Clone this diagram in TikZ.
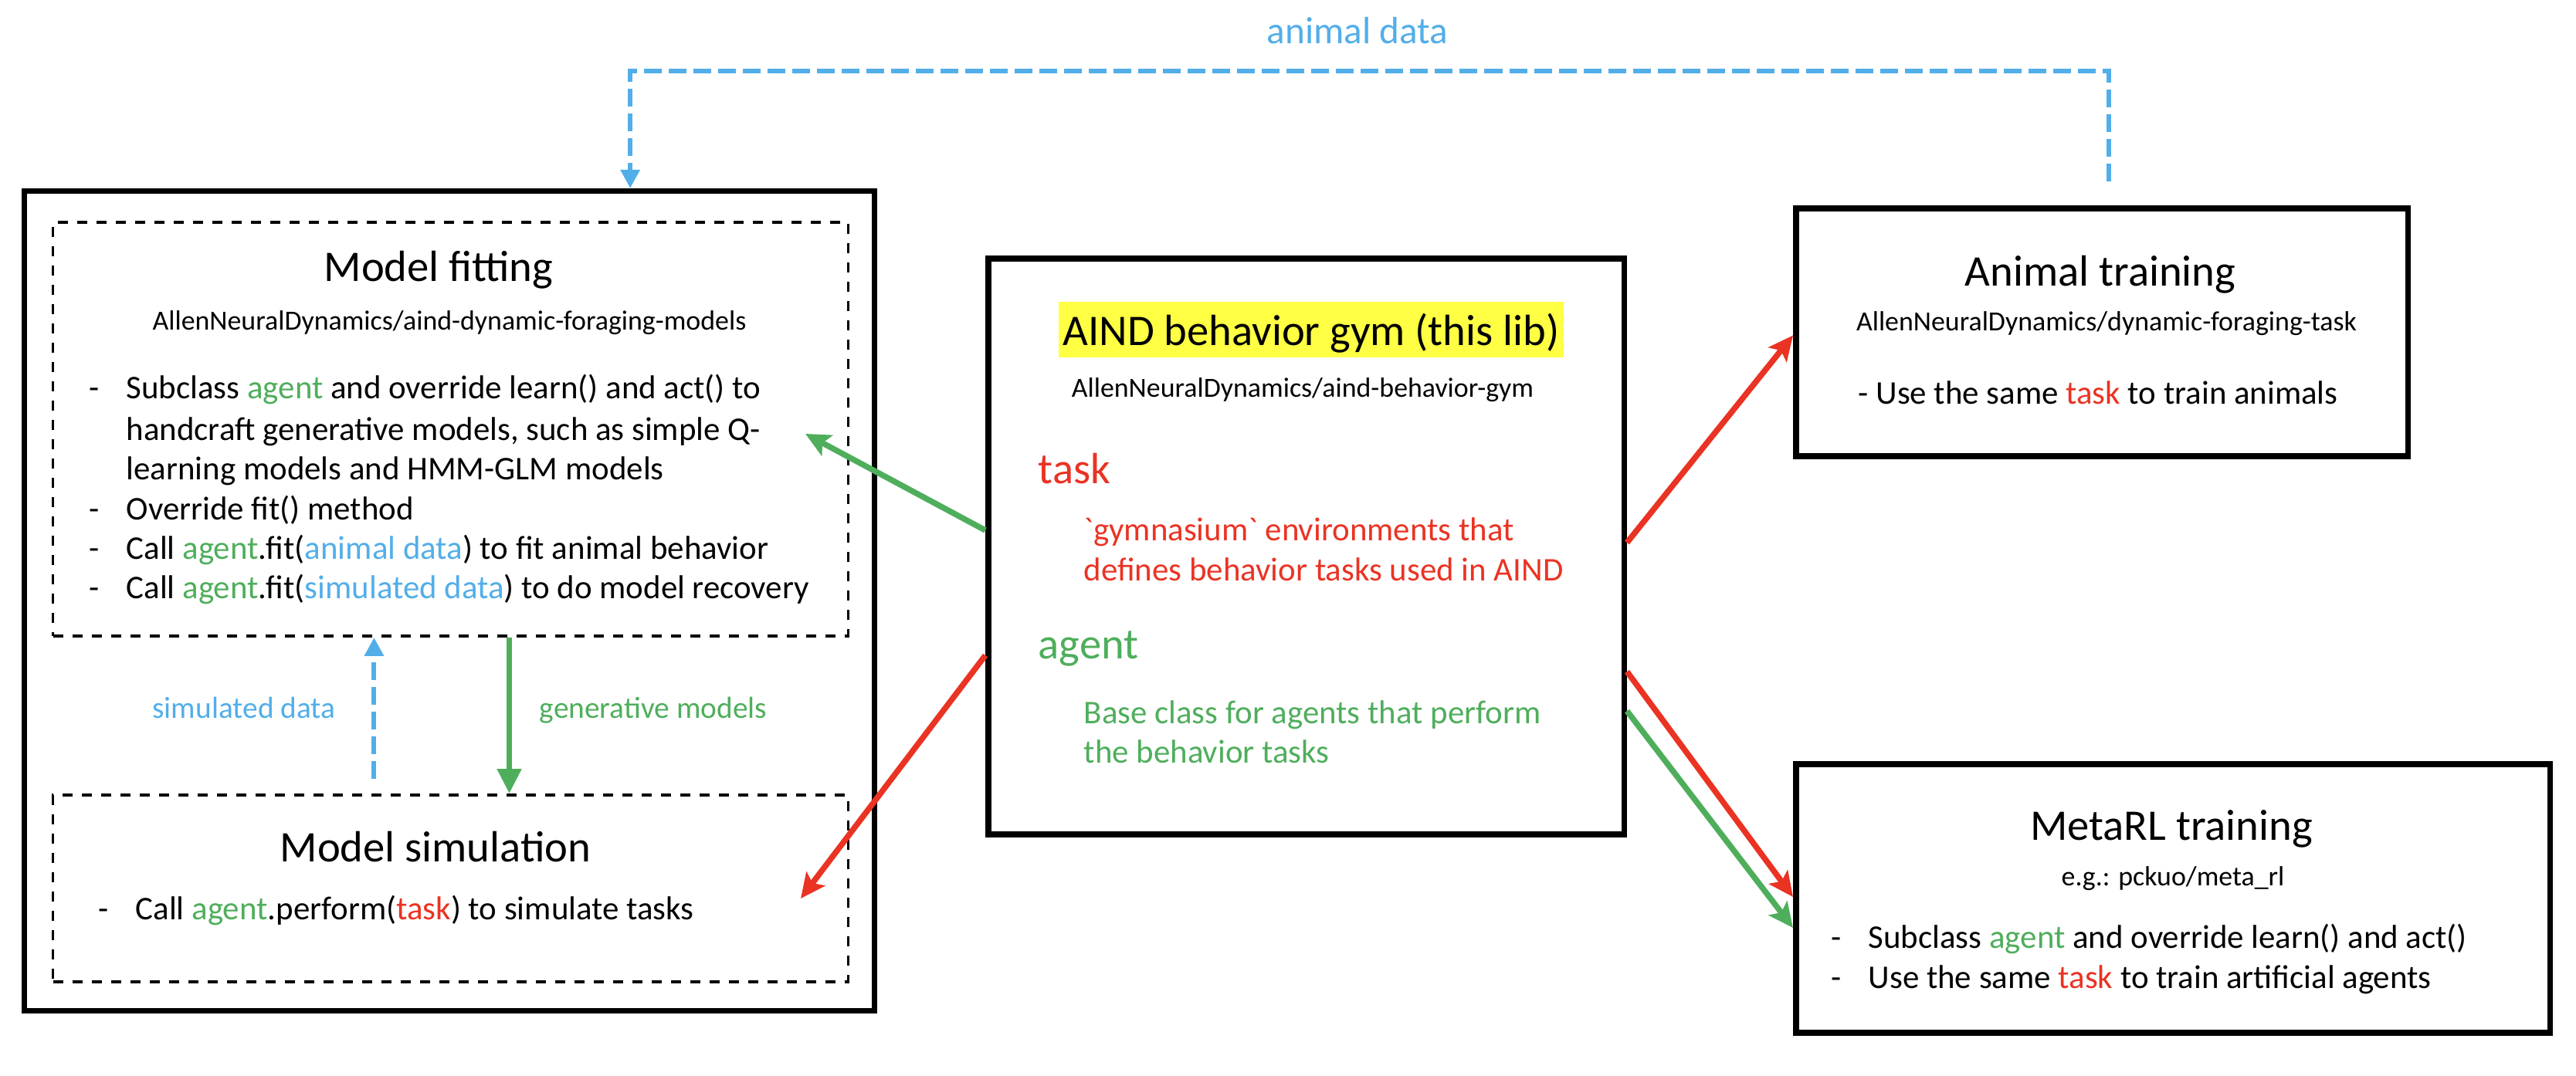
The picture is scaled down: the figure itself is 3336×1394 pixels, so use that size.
\documentclass[tikz,border=0pt]{standalone}
\usepackage{fontspec}
\setmainfont{Carlito}
\usetikzlibrary{arrows.meta}
\definecolor{agentgreen}{HTML}{4FAE5C}
\definecolor{taskred}{HTML}{EA3323}
\definecolor{datablue}{HTML}{52AEE9}
\definecolor{hiyellow}{HTML}{FFFF44}
\newcommand{\cagent}[1]{\textcolor{agentgreen}{#1}}
\newcommand{\ctask}[1]{\textcolor{taskred}{#1}}
\newcommand{\cdata}[1]{\textcolor{datablue}{#1}}
\newcommand{\itm}{\llap{-\hspace{0.355cm}}}
\begin{document}
\begin{tikzpicture}[
        x=0.01cm, y=-0.01cm,
        solidbox/.style={draw, line width=0.075cm, inner sep=0pt},
        dashbox/.style={draw, line width=0.035cm, dash pattern=on 0.13cm off 0.12cm, inner sep=0pt},
        ttl/.style={font=\fontsize{16.1}{19}\selectfont, anchor=base, inner sep=0pt},
        sub/.style={font=\fontsize{10.2}{12}\selectfont, anchor=base, inner sep=0pt},
        body/.style={font=\fontsize{12.2}{14.7}\selectfont, anchor=base west, inner sep=0pt},
        lbl/.style={font=\fontsize{11.2}{13}\selectfont, anchor=base, inner sep=0pt},
        taskarrow/.style={draw=taskred, line width=0.075cm, -{Stealth[length=0.32cm, width=0.3cm, inset=0.07cm]}},
        agentarrow/.style={draw=agentgreen, line width=0.075cm, -{Stealth[length=0.32cm, width=0.3cm, inset=0.07cm]}},
        genarrow/.style={draw=agentgreen, line width=0.075cm, -{Triangle[length=0.32cm, width=0.3cm]}},
        datalink/.style={draw=datablue, line width=0.06cm, dash pattern=on 0.23cm off 0.09cm, -{Triangle[length=0.24cm, width=0.24cm]}},
    ]
    \useasboundingbox (0,0) rectangle (3336,1394);

    \node[solidbox, minimum width=11cm, minimum height=10.61cm] (modelgroup) at (582,778.5) {};
    \node[dashbox, minimum width=10.29cm, minimum height=5.36cm] (fitbox) at (583.5,556) {};
    \node[dashbox, minimum width=10.29cm, minimum height=2.42cm] (simbox) at (583.5,1151) {};
    \node[solidbox, minimum width=8.23cm, minimum height=7.46cm] (gymbox) at (1691.5,708) {};
    \node[solidbox, minimum width=7.92cm, minimum height=3.21cm] (animalbox) at (2722,430.5) {};
    \node[solidbox, minimum width=9.76cm, minimum height=3.48cm] (metarlbox) at (2814,1164) {};

    \node[ttl] (fittitle) at (568,364) {Model fitting};
    \node[sub] (fitrepo) at (582,427) {AllenNeuralDynamics/aind-dynamic-foraging-models};
    \node[body] (fit1) at (163,516) {\itm Subclass \cagent{agent} and override learn() and act() to};
    \node[body] (fit2) at (163,570) {handcraft generative models, such as simple Q-};
    \node[body] (fit3) at (163,621) {learning models and HMM-GLM models};
    \node[body] (fit4) at (163,673) {\itm Override fit() method};
    \node[body] (fit5) at (163,724) {\itm Call \cagent{agent}.fit(\cdata{animal data}) to fit animal behavior};
    \node[body] (fit6) at (163,775) {\itm Call \cagent{agent}.fit(\cdata{simulated data}) to do model recovery};

    \node[ttl] (simtitle) at (564,1116) {Model simulation};
    \node[body] (sim1) at (175,1191) {\itm Call \cagent{agent}.perform(\ctask{task}) to simulate tasks};

    \node[ttl, fill=hiyellow, inner xsep=0.055cm, inner ysep=0.09cm, text height=0.47cm, text depth=0.07cm] (gymtitle) at (1698,447) {AIND behavior gym (this lib)};
    \node[sub] (gymrepo) at (1687,514) {AllenNeuralDynamics/aind-behavior-gym};
    \node[ttl, anchor=base west, text=taskred] (taskhead) at (1344,626) {task};
    \node[body, text=taskred] (task1) at (1403,700) {\textasciigrave gymnasium\textasciigrave{} environments that};
    \node[body, text=taskred] (task2) at (1403,752) {defines behavior tasks used in AIND};
    \node[ttl, anchor=base west, text=agentgreen] (agenthead) at (1344,853) {agent};
    \node[body, text=agentgreen] (agent1) at (1403,937) {Base class for agents that perform};
    \node[body, text=agentgreen] (agent2) at (1403,988) {the behavior tasks};

    \node[ttl] (animaltitle) at (2720,370) {Animal training};
    \node[sub] (animalrepo) at (2728,428) {AllenNeuralDynamics/dynamic-foraging-task};
    \node[body] (animal1) at (2406,523) {- Use the same \ctask{task} to train animals};

    \node[ttl] (metatitle) at (2812,1088) {MetaRL training};
    \node[sub] (metarepo) at (2814,1147) {e.g.: pckuo/meta\_rl};
    \node[body] (meta1) at (2419,1228) {\itm Subclass \cagent{agent} and override learn() and act()};
    \node[body] (meta2) at (2419,1280) {\itm Use the same \ctask{task} to train artificial agents};

    \node[lbl, text=datablue] (simlabel) at (316,930) {simulated data};
    \node[lbl, text=agentgreen] (genlabel) at (846,930) {generative models};
    \node[lbl, font=\fontsize{14}{17}\selectfont, text=datablue] (animallabel) at (1758,57) {animal data};

    \coordinate (adstart) at (2731,235);
    \coordinate (adturn) at (2731,92);
    \coordinate (fitinside) at (1043,562);
    \coordinate (siminside) at (1037,1164);

    \draw[datalink] (adstart) -- (adturn) -| ([xshift=2.34cm]modelgroup.north);
    \draw[datalink] ([xshift=-0.99cm, yshift=0.19cm]simbox.north) -- ([xshift=-0.99cm]fitbox.south);
    \draw[genarrow] ([xshift=0.76cm]fitbox.south) -- ([xshift=0.76cm]simbox.north);
    \draw[agentarrow] ([yshift=0.21cm]gymbox.west) -- (fitinside);
    \draw[taskarrow] ([yshift=-1.41cm]gymbox.west) -- (siminside);
    \draw[taskarrow] ([yshift=0.05cm]gymbox.east) -- ([yshift=-0.04cm]animalbox.west);
    \draw[taskarrow] ([yshift=-1.62cm]gymbox.east) -- ([yshift=0.02cm]metarlbox.west);
    \draw[agentarrow] ([yshift=-2.13cm]gymbox.east) -- ([yshift=-0.38cm]metarlbox.west);
\end{tikzpicture}
\end{document}
